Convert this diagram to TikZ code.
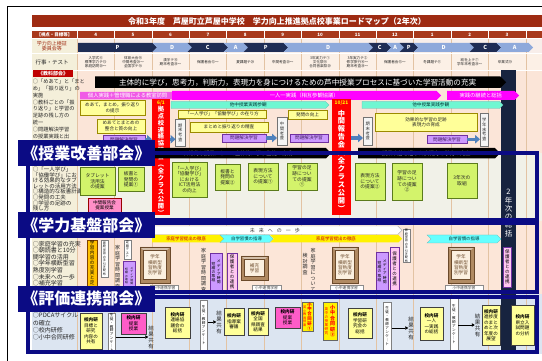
\documentclass[tikz,border=0pt]{standalone}
\usepackage{fontspec}
\setmainfont{Noto Sans CJK JP}
\usetikzlibrary{arrows.meta}
\newcommand\fs[2]{\fontsize{#1}{#2}\selectfont}
\makeatletter
\def\tate#1{\vbox{\baselineskip=1.1em\lineskiplimit=-20pt\lineskip=0pt\tate@b#1\tate@end}}
\def\tate@b#1{\ifx#1\tate@end\else\hbox to 1em{\hss#1\hss}\expandafter\tate@b\fi}
\makeatother
\definecolor{tred}{HTML}{9E2B12}
\definecolor{hred}{HTML}{A8391C}
\definecolor{pnavy}{HTML}{1F2D55}
\definecolor{plight}{HTML}{8EA9DB}
\definecolor{lbeige}{HTML}{F4EFDA}
\definecolor{rowbg}{HTML}{FCF0E6}
\definecolor{pdbg}{HTML}{F8EEEA}
\definecolor{pinkbg}{HTML}{FBE5D8}
\definecolor{grbg}{HTML}{F1F1E8}
\definecolor{peach}{HTML}{FCE6D8}
\definecolor{bluebg}{HTML}{DCE5F1}
\definecolor{colline}{HTML}{E3C3A3}
\definecolor{mag}{HTML}{FF00FF}
\definecolor{magl}{HTML}{F05AE6}
\definecolor{tealA}{HTML}{6FF7D2}
\definecolor{yel}{HTML}{FFFF99}
\definecolor{yelb}{HTML}{9C8A00}
\definecolor{lav}{HTML}{CC99FF}
\definecolor{lavb}{HTML}{7030A0}
\definecolor{ablue}{HTML}{4F81BD}
\definecolor{frnavy}{HTML}{0B0B84}
\definecolor{ygreen}{HTML}{D3F36B}
\definecolor{ygb}{HTML}{5B7B1C}
\definecolor{pinkbox}{HTML}{FF8FC8}
\definecolor{hotpink}{HTML}{FF5CC8}
\definecolor{orng}{HTML}{FFC000}
\definecolor{cyanA}{HTML}{66FFFF}
\definecolor{frbrown}{HTML}{B08A62}
\definecolor{frdark}{HTML}{6B4A2B}
\definecolor{frin}{HTML}{FBF0E0}
\definecolor{barnavy}{HTML}{17233F}
\definecolor{lpink}{HTML}{FFC8F0}
\tikzset{
 nb/.style={inner sep=0pt, outer sep=0pt},
 ac/.style={nb, align=center},
 ybox/.style={ac, fill=yel, draw=yelb, line width=0.4pt, font=\fs{4.6}{5.4}, text=black!85},
 lbox/.style={ac, fill=lav, draw=lavb, line width=0.4pt, font=\fs{4.6}{5}, text=lavb!60!black},
 gvbox/.style={nb, fill=black!4, draw=black!55, line width=0.4pt, font=\fs{4.3}{4.3}, text=black!80},
 gbox/.style={ac, fill=ygreen, draw=ygb, line width=0.5pt, font=\fs{4.8}{5.6}, text=black!85},
 pbox/.style={ac, fill=pinkbox, draw=red!60!black, line width=0.4pt, font=\fs{4.6}{5.4}},
 kbox/.style={ac, fill=yel, draw=black!75, line width=0.4pt, font=\fs{4.6}{5.5}},
 pkbox/.style={ac, fill=hotpink, draw=black!75, line width=0.4pt, font=\fs{4.6}{5.5}},
 qbox/.style={nb, fill=white, draw=black!50, line width=0.4pt, font=\fs{3.6}{3.6}},
 sbox/.style={nb, fill=yellow, draw=black!60, line width=0.4pt},
 wbox/.style={ac, fill=white, draw=black!45, line width=0.4pt, font=\fs{3.8}{4}, text=black!75},
 vtx/.style={nb, font=\fs{5}{5}, text=black!85},
 lvb/.style={nb, fill=lav, draw=lavb, line width=0.4pt},
 pvb/.style={nb, fill=lpink, draw=lavb, line width=0.4pt, font=\fs{4.5}{4.5}},
 obox/.style={nb, fill=orng, draw=orange!50!black, line width=0.4pt, font=\fs{4.6}{4.6}},
 wvb/.style={nb, fill=white, draw=black!50, line width=0.4pt, font=\fs{3.1}{3.1}},
 redbar/.style={nb, fill=red},
 barr/.style={ablue, line width=3.4pt, -{Triangle[length=5pt,width=8.5pt]}},
 karr/.style={black, line width=0.9pt, -{Triangle[length=3pt,width=3.5pt]}},
 lab/.style={nb, fill=frnavy, text=white, font=\bfseries\fs{16}{16}, minimum width=137pt, minimum height=26pt, anchor=north west},
 frm/.style={frnavy, line width=3.2pt},
 evt/.style={ac, font=\fs{3.6}{4.3}, text=black!85},
}
\newcommand\bx[7]{\node[#2, anchor=north west, minimum width={(#5-#3)*1pt}, minimum height={(#6-#4)*1pt}] (#1) at (#3,#4) {#7};}
\newcommand\harr[8]{%
 \path[#6] (#2,#4) -- ({#3-(#5-#4)/2},#4) -- (#3,{(#4+#5)/2}) -- ({#3-(#5-#4)/2},#5) -- (#2,#5) -- cycle;
 \node[nb,#7] (#1) at ({(#2+#3)/2-(#5-#4)/4},{(#4+#5)/2}) {#8};}
\newcommand\harrn[8]{%
 \path[#6] (#2,#4) -- ({#3-(#5-#4)/2},#4) -- (#3,{(#4+#5)/2}) -- ({#3-(#5-#4)/2},#5) -- (#2,#5) -- ({#2+(#5-#4)/2},{(#4+#5)/2}) -- cycle;
 \node[nb,#7] (#1) at ({(#2+#3)/2},{(#4+#5)/2}) {#8};}
\newcommand\chev[5]{%
 \fill[#4] (#2,43) -- ({#3-4.5},43) -- (#3,47.5) -- ({#3-4.5},52) -- (#2,52) -- ({#2+4.5},47.5) -- cycle;
 \node[nb, text=white, font=\bfseries\fs{5.5}{6}] (#1) at ({(#2+#3)/2},47.5) {#5};}
\newcommand\pframe[6]{%
 \fill[frbrown] (#2,#3) rectangle (#4,#5);
 \fill[frbrown!55!white] (#2,#3) -- (#4,#3) -- ({#4-3.5},{#3+3.5}) -- ({#2+3.5},{#3+3.5}) -- cycle;
 \draw[frdark, line width=0.4pt] (#2,#3) rectangle (#4,#5);
 \node[ac, fill=frin, draw=frdark, line width=0.4pt, minimum width={(#4-#2-7)*1pt}, minimum height={(#5-#3-7)*1pt}, font=\fs{4.6}{5.4}, text=frdark] (#1) at ({(#2+#4)/2},{(#3+#5)/2}) {#6};}

\begin{document}
\begin{tikzpicture}[x=1pt,y=-1pt]
\useasboundingbox (0,0) rectangle (542,361);
\fill[white] (0,0) rectangle (542,361);
% backgrounds
\fill[lbeige] (32,38.8) rectangle (77,294);
\fill[bluebg] (32,294) rectangle (77,354);
\fill[pdbg] (77,38.8) rectangle (542,53.5);
\fill[rowbg] (77,53.5) rectangle (542,70);
\fill[pinkbg] (77,70) rectangle (542,153);
\fill[grbg] (77,153) rectangle (542,221);
\fill[peach] (77,221) rectangle (542,294);
\fill[bluebg] (77,294) rectangle (542,354);
\foreach \i in {0,...,12} \draw[colline, line width=0.5pt] ({77+37.4*\i},38.8) -- ({77+37.4*\i},354);
\draw[white, line width=0.8pt] (32,53.3) -- (542,53.3) (32,70) -- (542,70);
% outer border
\draw[line width=0.8pt] (7.5,361) -- (7.5,6.5) -- (542,6.5);
% title
\fill[tred] (32,15) rectangle (542,27.5);
\node[nb, text=white, font=\bfseries\fs{8}{8}] (title) at (277,21.3) {令和3年度　芦屋町立芦屋中学校　学力向上推進拠点校事業ロードマップ（2年次）};
% header
\fill[hred] (32,31) rectangle (542,38.2);
\foreach \i in {0,...,12} \draw[white, line width=0.5pt] ({77+37.4*\i},31) -- ({77+37.4*\i},38.2);
\node[nb, text=white, font=\bfseries\fs{4.5}{5}] (hd) at (54.5,34.6) {【視点・目標等】};
\foreach \m [count=\i from 0] in {4,5,6,7,8,9,10,11,12,1,2,3}
  \node[nb, text=white, font=\bfseries\fs{4.5}{5}] (m\i) at ({95.7+37.4*\i},34.6) {\m};
% PDCA row
\node[ac, text=tred, font=\fs{5}{5.6}] (pdl) at (52,46) {学力向上検証\\委員会等};
\chev{p1}{78}{157}{pnavy}{P}
\fill[pnavy] (78,43) rectangle (83,52);
\chev{d1}{152.5}{192}{plight}{D}
\chev{c1}{187.5}{228}{pnavy}{C}
\chev{a1}{223.5}{248}{plight}{A}
\chev{p2}{243.5}{288}{pnavy}{P}
\chev{d2}{283.5}{373}{plight}{D}
\chev{c2}{368.5}{391}{pnavy}{C}
\chev{a2}{386.5}{404}{plight}{A}
\chev{p3}{399.5}{418}{pnavy}{P}
\chev{d3}{413.5}{474}{plight}{D}
\chev{c3}{469.5}{501}{pnavy}{C}
\chev{a3}{496.5}{533}{plight}{A}
% events row
\node[nb, font=\fs{5.5}{6}, text=black!85] (evl) at (52,62) {行事・テスト};
\node[evt] (e0) at (95.7,62) {入学式⑥\\標準学力テ⑬\\家庭訪問⑳～};
\node[evt] (e1) at (133.1,62) {体育大会⑯\\中間考査⑳～\\全国学テ⑱};
\node[evt] (e2) at (170.5,62) {漢字テ⑮\\期末考査⑳～};
\node[evt] (e3) at (207.9,62) {保護者会⑫～};
\node[evt] (e4) at (245.3,62) {夏課題テ⑳};
\node[evt] (e5) at (282.7,62) {中間考査⑳～};
\node[evt] (e6) at (320.1,62) {3年実力テ①\\文化祭⑯\\合同音楽祭⑳};
\node[evt] (e7) at (357.5,62) {3年実力テ②\\修学旅行⑯～\\期末考査⑳～};
\node[evt] (e8) at (394.9,62) {保護者会⑬～};
\node[evt] (e9) at (432.3,62) {冬課題テ⑪};
\node[evt] (e10) at (469.7,62) {総社上テ⑦\\学年末考査⑳～};
\node[evt] (e11) at (505,62) {卒業式⑩};
% navy column
\fill[barnavy] (501,70) rectangle (516,352);
\node[nb, text=white, font=\fs{7.5}{7.5}] (sokatsu) at (508.5,213) {\tate{2年次の総括}};
% ---- kyoka bukai
\node[nb, fill=red!75!black, text=white, font=\bfseries\fs{5}{5}, minimum width=40pt, minimum height=7.5pt, anchor=north west] (kyl) at (33,70) {《教科部会》};
\node[nb, align=left, anchor=north west, font=\fs{5.2}{6.8}, text=black!85] (lt1) at (33,79.3) {○「めあて」と「まと\\め」「振り返り」の\\実施\\○教科ごとの「振\\り返り」と学習の\\足跡の残し方の\\統一\\○問題解決学習\\の授業実践と出};
\harr{ban1}{95}{506}{76.5}{88}{fill=black}{text=white, font=\fs{7.6}{8}}{主体的に学び，思考力，判断力，表現力を身につけるための芦中授業プロセスに基づいた学習活動の充実}
\harr{mA}{80}{179}{92}{99.5}{fill=magl}{text=white, font=\fs{5.3}{5.5}}{個人実践＋管理職による教室訪問}
\harr{mB}{172}{441}{91}{100}{fill=mag}{text=white, font=\fs{5.3}{5.5}}{一人一実践（相互参観協議）}
\harr{mC}{447}{519}{91}{100}{fill=mag}{text=white, font=\fs{5.3}{5.5}}{実践の継続と総括}
\harr{tA}{171}{329}{101.5}{108.5}{fill=tealA, draw=teal!60, line width=0.3pt}{text=teal!40!black, font=\fs{4.6}{5}}{他中授業実践参観}
\harr{tB}{362}{503}{101.5}{108.5}{fill=tealA, draw=teal!60, line width=0.3pt}{text=teal!40!black, font=\fs{4.6}{5}}{他中授業実践参観}
\bx{y1}{ybox}{80}{100.5}{145}{115}{めあて，まとめ，振り返り\\の提示}
\bx{y2}{ybox}{97}{119}{145}{133}{めあてとまとめの\\整合と質の向上}
\bx{l1}{lbox}{103}{135.5}{145}{143}{問題解決学習}
\bx{bar61}{redbar}{152}{99}{170}{215}{}
\node[nb, text=yellow, font=\bfseries\fs{4.8}{5}] (d61) at (161,102.8) {6/1};
\node[nb, text=white, font=\bfseries\fs{6.3}{6.3}] (t61) at (161,160.5) {\tate{拠点校連絡協議会︵全クラス公開︶}};
\bx{km1}{gvbox}{175.5}{119}{185}{146}{\tate{期末考査}}
\bx{y3}{ybox}{178}{110}{266}{118.5}{「一人学び」「協働学び」の在り方}
\bx{y4}{ybox}{190}{122}{268}{132}{まとめと振り返りの精査}
\bx{l2}{lbox}{222}{134}{266}{142}{問題解決学習}
\bx{ck}{gvbox}{277}{117}{287}{145}{\tate{中間考査}}
\bx{y5}{ybox}{288}{110}{327}{119}{発問の向上}
\bx{l3}{lbox}{290}{134}{328}{142}{問題解決学習}
\bx{bar1021}{redbar}{332}{99}{351}{215}{}
\node[nb, text=yellow, font=\bfseries\fs{4.8}{5}] (d1021) at (341.5,102.8) {10/21};
\node[nb, text=white, font=\bfseries\fs{7.2}{7.2}] (t1021) at (341.5,160.5) {\tate{中間報告会︵全クラス公開︶}};
\bx{km2}{gvbox}{363}{117}{372.5}{145}{\tate{期末考査}}
\bx{y6}{ybox}{375}{113}{477}{131}{効果的な学習の足跡\\表現力の育成}
\bx{l4}{lbox}{427}{135.5}{467}{143}{問題解決学習}
\bx{gk}{gvbox}{480}{113}{488.5}{146}{\tate{学年末考査}}
\draw[barr] (l1.east) -- (bar61.west |- l1);
\draw[barr] (bar61.east |- l1) -- (km1.west |- l1);
\draw[barr] (l2.east) -- (ck.west |- l2);
\draw[barr] (bar1021.east |- l3) -- (km2.west |- l3);
\draw[barr] (l4.east) -- (gk.west |- l4);
% ---- jugyo kaizen
\harr{ban2}{150}{331}{148}{158.5}{fill=black}{text=white, font=\fs{5.2}{5.5}}{日常的な授業において主体的に学ぶ生徒の育成}
\harr{ban3}{358}{500}{148}{158.5}{fill=black}{text=white, font=\fs{5.2}{5.5}}{授業改善を通した表現力と学力の向上}
\node[nb, align=left, anchor=north west, font=\fs{5.5}{5.6}, text=black!85] (lt2) at (33,166.8) {○「一人学び」\\「協働学び」にお\\ける効果的なタブ\\レットの活用方法\\○構造的な板書計画\\○発問の工夫\\○学習の足跡の\\残し方};
\bx{g1}{gbox}{80}{167.5}{115}{195}{タブレット\\活用法\\の提案}
\bx{g2}{gbox}{118}{167.5}{144}{191}{板書と\\発問の\\提案①}
\bx{pk1}{pbox}{88}{198}{121}{213}{中間報告会\\提案授業}
\bx{g3}{gbox}{172}{162}{207}{197}{「一人学び」\\「協働学び」\\における\\ICT活用法\\の向上}
\bx{g4}{gbox}{215}{164}{240}{190}{板書と\\発問の\\提案②}
\bx{g5}{gbox}{248}{163}{278}{190}{表現方法\\について\\の提案①}
\bx{g6}{gbox}{287}{163}{317}{190}{学習の足\\跡につい\\ての提案\\①}
\bx{g7}{gbox}{355}{163}{385}{200}{表現方法\\について\\の提案②}
\bx{g8}{gbox}{392}{163}{422}{200}{学習の足\\跡につい\\ての提案\\②}
\bx{g9}{gbox}{447}{163}{477}{198}{3年次の\\取組}
% ---- gakuryoku kiban
\node[nb, align=left, anchor=north west, font=\fs{6}{6.6}, text=black!85] (lt3) at (33,241) {○家庭学習の充実\\○朝読書と10分\\間学習の活用\\○学年横断型習\\熟度別学習\\○未来への一歩\\○補充学習};
\harr{mirai}{152}{402}{226}{234.5}{fill=white, draw=gray!60, line width=0.4pt}{text=gray!50!black, font=\fs{5}{5}}{未\hspace{4pt}来\hspace{4pt}へ\hspace{4pt}の\hspace{4pt}一\hspace{4pt}歩}
\harr{yA}{152}{224}{235}{242.5}{fill=yellow}{text=red!80!black, font=\fs{4.4}{5}}{家庭学習提出の徹底}
\harrn{cA}{220}{273}{235}{242.5}{fill=cyanA, draw=teal!60, line width=0.3pt}{text=teal!40!black, font=\fs{4.4}{5}}{自学習慣の指導}
\harrn{yB}{270}{402}{235}{242.5}{fill=yellow}{text=red!80!black, font=\fs{4.4}{5}}{家庭学習提出の徹底}
\harrn{cB}{427}{501}{235}{243}{fill=cyanA, draw=teal!60, line width=0.3pt}{text=teal!40!black, font=\fs{4.4}{5}}{自学習慣の指導}
\bx{ob}{obox}{87}{240}{97.5}{291}{\tate{学習内容の充実と定着}}
\bx{wv1}{wvb}{101}{240.5}{108}{277}{\tate{家庭学習の手引き配布}}
\node[vtx] (jc1) at (117.5,267) {\tate{家庭学習時間調査}};
\bx{md1}{lvb}{123}{261}{135}{291}{}
\node[nb, font=\fs{2.8}{2.8}] (md1a) at (131.8,276) {\tate{メディア時間}};
\node[nb, font=\fs{2.8}{2.8}] (md1b) at (126.5,276) {\tate{短縮の取組}};
\bx{tt1}{wvb}{124}{240}{131}{259}{\tate{定期テスト}}
\pframe{f1}{140}{247}{170}{283}{学年\\横断型\\習熟度\\別学習}
\bx{sc1}{wbox}{150}{285.5}{178}{291.5}{小中連携学習}
\node[vtx] (jc2) at (203.5,270) {\tate{家庭学習時間調査}};
\bx{md2}{lvb}{210}{253}{222}{291}{}
\node[nb, font=\fs{3.8}{3.8}] (md2a) at (218.8,272) {\tate{メディア時間}};
\node[nb, font=\fs{3.8}{3.8}] (md2b) at (213.5,272) {\tate{短縮の取組}};
\bx{hg1}{pvb}{227}{253}{237}{291}{\tate{保護者との連携}}
\pframe{f2}{241}{256}{268}{280}{補充\\学習}
\bx{sc2}{wbox}{252}{285.5}{281}{291.5}{小中連携学習}
\node[vtx] (jc3a) at (313,270) {\tate{家庭学習について}};
\node[vtx] (jc3b) at (305,264) {\tate{検討調査}};
\pframe{f3}{332}{247}{358}{283}{学年\\横断型\\習熟度\\別学習}
\bx{sc3}{wbox}{330}{285.5}{363}{291.5}{小中連携学習}
\bx{md3}{lvb}{376}{252}{388}{291}{}
\node[nb, font=\fs{3.8}{3.8}] (md3a) at (384.8,271.5) {\tate{メディア時間}};
\node[nb, font=\fs{3.8}{3.8}] (md3b) at (379.5,271.5) {\tate{短縮の取組}};
\bx{hg2}{pvb}{390}{247}{399}{291}{\tate{保護者との連携}}
\bx{wv2}{wvb}{403}{229}{410}{262}{\tate{家庭学習の手引き配布}}
\pframe{f4}{448}{247}{474}{283}{学年\\横断型\\習熟度\\別学習}
\bx{sc4}{wbox}{445}{285.5}{483}{291.5}{小中連携学習}
\bx{hg3}{pvb}{503}{247}{511.5}{287}{\tate{保護者との連携}}
% ---- hyoka renkei
\node[nb, align=left, anchor=north west, font=\fs{6}{7.3}, text=black!85] (lt4) at (33,313) {○PDCAサイクル\\の確立\\○校内研修\\○小中合同研修};
\bx{k1}{kbox}{80}{313}{102}{349}{\textbf{校内研}\\目標と\\研究\\内容の\\共有}
\bx{q1}{qbox}{108}{313}{115.5}{352}{\tate{生徒・教師アンケ｜ト}}
\bx{k2}{pkbox}{121}{313}{146}{334}{\textbf{校内研}\\提案\\授業}
\node[vtx, font=\fs{5.5}{5.5}] (r1) at (151,337) {\tate{結果共有}};
\draw[karr] (q1.east |- r1) -- (r1.west);
\bx{k3}{kbox}{165}{307}{190}{338}{\textbf{校内研}\\連絡協\\議会の\\総括}
\bx{q2}{qbox}{200}{300}{207.5}{350}{\tate{生徒・教師アンケ｜ト}}
\node[vtx, font=\fs{5.5}{5.5}] (r2) at (219,322) {\tate{結果共有}};
\draw[karr] (q2.east |- r2) -- (r2.west);
\bx{k4}{kbox}{224}{308}{244}{335}{\textbf{校内研}\\指導案\\審議}
\bx{k5}{kbox}{248}{308}{268}{335}{\textbf{校内研}\\全国\\県調査\\結果}
\bx{k6}{pkbox}{275}{307}{300}{328}{\textbf{校内研}\\提案\\授業}
\bx{s1}{sbox}{302}{302}{313}{331}{}
\node[nb, text=red, font=\bfseries\fs{4.4}{4.4}] (s1a) at (309.5,316.5) {\tate{小中合同研①}};
\node[nb, text=red, font=\fs{3.2}{3.2}] (s1b) at (304.8,316.5) {\tate{英小教員授業}};
\bx{s2}{sbox}{323}{302}{337}{340}{}
\node[nb, text=red, font=\bfseries\fs{5}{5}] (s2a) at (332.5,321) {\tate{小中合同研②}};
\node[nb, text=red, font=\fs{3.6}{3.6}] (s2b) at (326.5,321) {\tate{英中の授業研究}};
\bx{k7}{kbox}{348}{308}{372}{338}{\textbf{校内研}\\学習研\\究会の\\総括}
\bx{q3}{qbox}{383}{302}{391.5}{350}{\tate{生徒・教師アンケ｜ト}}
\node[vtx, font=\fs{5.5}{5.5}] (r3) at (411,328) {\tate{結果共有}};
\draw[karr] (q3.east |- r3) -- (r3.west);
\bx{k8}{kbox}{420}{307}{443}{340}{\textbf{校内研}\\一人\\一実践\\の総括}
\bx{q4}{qbox}{450}{296}{458}{352}{\tate{生徒・教師アンケ｜ト}}
\node[vtx, font=\fs{5.5}{5.5}] (r4) at (477.5,325) {\tate{結果共有}};
\draw[karr] (q4.east |- r4) -- (r4.west);
\bx{k9}{kbox}{482}{305}{500}{345}{\textbf{校内研}\\進捗度\\のまと\\めと次\\年度の\\展望}
\bx{k10}{kbox}{511}{305}{534}{345}{\textbf{校内研}\\県立入\\試問題\\の分析}
% frames
\draw[frm] (28,153) rectangle (537,220);
\draw[frm] (28,223) rectangle (537,292);
\draw[frm] (28,297) rectangle (537,352);
% labels
\node[lab] (lab1) at (18,140) {《授業改善部会》};
\node[lab] (lab2) at (18,212.5) {《学力基盤部会》};
\node[lab] (lab3) at (18,285.5) {《評価連携部会》};
\end{tikzpicture}
\end{document}
